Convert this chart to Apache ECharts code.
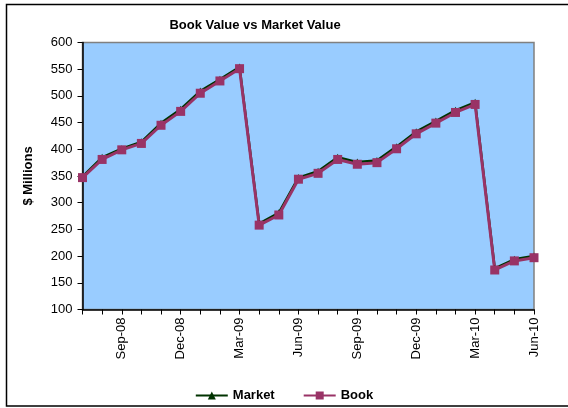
<!DOCTYPE html>
<html>
<head>
<meta charset="utf-8">
<script src="https://cdn.jsdelivr.net/npm/echarts@6/dist/echarts.min.js"></script>
<style>
  html, body { margin: 0; padding: 0; background: #fff; }
  #chart { width: 568px; height: 408px; }
</style>
</head>
<body>
<div id="chart"></div>
<script>
  // months, Jul-08 .. Jun-10
  var months = ['Jul-08', 'Aug-08', 'Sep-08', 'Oct-08', 'Nov-08', 'Dec-08',
    'Jan-09', 'Feb-09', 'Mar-09', 'Apr-09', 'May-09', 'Jun-09',
    'Jul-09', 'Aug-09', 'Sep-09', 'Oct-09', 'Nov-09', 'Dec-09',
    'Jan-10', 'Feb-10', 'Mar-10', 'Apr-10', 'May-10', 'Jun-10'];
  var market = [349, 385, 401, 414, 449, 475, 509, 531, 554, 261, 281, 347,
    359, 385, 376, 379, 405, 433, 453, 473, 488, 177, 194, 200];
  var book = [347, 381, 399, 411, 445, 471, 505, 528, 551, 258, 277, 344,
    355, 381, 372, 375, 401, 429, 449, 469, 484, 174, 191, 197];

  var chart = echarts.init(document.getElementById('chart'));
  var option = {
    animation: false,
    textStyle: { fontFamily: 'Liberation Sans, Arial, sans-serif' },
    title: {
      text: 'Book Value vs Market Value',
      left: 250,
      textAlign: 'center',
      top: 14,
      textStyle: { fontSize: 13, fontWeight: 'bold', color: '#000' }
    },
    legend: {
      top: 384,
      left: 'center',
      itemWidth: 32,
      itemHeight: 10,
      itemGap: 28,
      textStyle: { fontSize: 13, fontWeight: 'bold', color: '#000' },
      data: ['Market', 'Book']
    },
    graphic: [{
      type: 'rect',
      shape: { x: 6.5, y: 4.5, width: 580, height: 401.5 },
      style: { fill: 'none', stroke: '#000', lineWidth: 1.5 },
      silent: true
    }],
    grid: {
      left: 82.5,
      right: 34,
      top: 42.5,
      bottom: 98.5,
      show: true,
      backgroundColor: '#99CCFF',
      borderColor: '#808080',
      borderWidth: 1.5
    },
    xAxis: {
      type: 'category',
      data: months,
      boundaryGap: false,
      axisLine: { lineStyle: { color: '#000', width: 1.5 } },
      axisTick: { interval: 0, length: 5, lineStyle: { color: '#000' } },
      axisLabel: {
        interval: function (i) { return i % 3 === 2; },
        rotate: 90,
        margin: 8,
        fontSize: 13,
        color: '#000'
      },
      splitLine: { show: false }
    },
    yAxis: {
      type: 'value',
      name: '$ Millions',
      nameLocation: 'middle',
      nameGap: 48,
      nameTextStyle: { fontSize: 13, fontWeight: 'bold', color: '#000' },
      min: 100,
      max: 600,
      interval: 50,
      axisLine: { show: true, lineStyle: { color: '#000', width: 1.5 } },
      axisTick: { show: true, length: 5, lineStyle: { color: '#000' } },
      axisLabel: { fontSize: 13, color: '#000', margin: 10 },
      splitLine: { show: false }
    },
    series: [
      {
        name: 'Market',
        type: 'line',
        data: market,
        symbol: 'triangle',
        symbolSize: 7,
        itemStyle: { color: '#003300' },
        lineStyle: { color: '#003300', width: 2.5 }
      },
      {
        name: 'Book',
        type: 'line',
        data: book,
        symbol: 'rect',
        symbolSize: 9,
        itemStyle: { color: '#993366' },
        lineStyle: { color: '#993366', width: 3 }
      }
    ]
  };
  chart.setOption(option);
</script>
</body>
</html>
